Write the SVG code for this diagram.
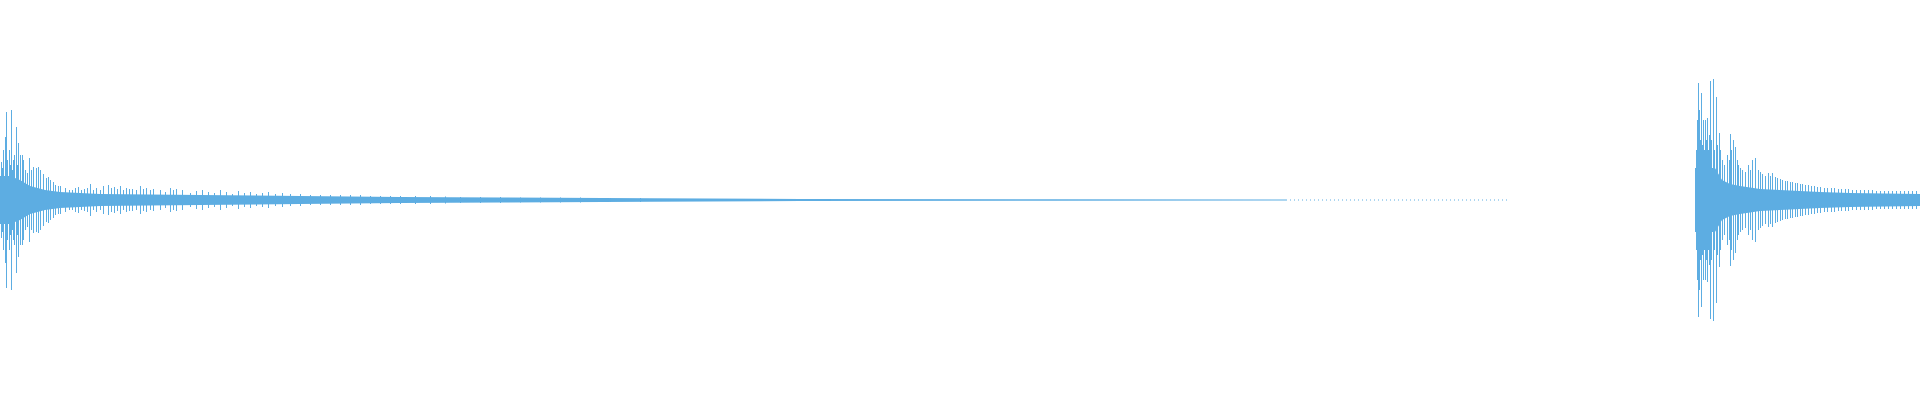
<svg xmlns="http://www.w3.org/2000/svg" width="1920" height="400" viewBox="0 0 1920 400">
<style>.w{fill:#5DADE2}.s{stroke:#5DADE2;stroke-width:1;fill:none}.d{stroke:#5DADE2;stroke-width:1;stroke-dasharray:1 3}</style>
<rect width="1920" height="400" fill="#fff"/>
<g id="burst1">
<polygon class="w" points="0,176 10,176 20,180 30,186 45,190 60,192 80,193 100,194 200,195 300,196 400,197 500,197.5 650,198.3 800,198.9 1050,199.3 1286,199.6 1286,200.4 1050,200.7 800,201.1 650,201.7 500,202.5 400,203 300,204 200,205 100,206 80,207 60,208 45,210 30,214 20,220 10,224 0,224"/>
<path class="s" d="M1.5,162V238M2.5,168V232M3.5,150V250M5.5,137V263M6.5,112V288M7.5,160V240M9.5,150V250M10.5,165V235M11.5,110V290M12.5,170V230M13.5,160V240M14.5,155V245M16.5,127V273M17.5,165V235M18.5,143V257M20.5,155V245M22.5,155V245M23.5,160V240M25.5,170V230M27.5,173V227M29.5,158V242M31.5,170V230M33.5,167V233M36.5,168V232M38.5,167V233M40.5,170V230M43.5,174V226M46.5,178V222M48.5,177V223M50.5,180V220M53.5,182V218M55.5,185V215M58.5,186V214M60.5,186V214M65.5,188V212M69.5,190V210M72.5,190V210M75.5,188V212M78.5,187V213M81.5,190V210M84.5,189V211M87.5,188V212M90.5,184V216M93.5,190V210M96.5,188V212M100.5,190V210M103.5,186V214M108.5,185V215M111.5,188V212M114.5,187V213M117.5,189V211M120.5,186V214M123.5,190V210M126.5,188V212M129.5,189V211M132.5,189V211M136.5,190V210M140.5,186V214M143.5,189V211M146.5,188V212M150.5,190V210M153.5,189V211M160.5,190V210M165.5,192V208M170.5,188V212M173.5,190V210M176.5,189V211M182.5,190V210M190.5,193V207M196.5,191V209M202.5,190V210M208.5,192V208M214.5,193V207M220.5,190V210M226.5,192V208M232.5,194V206M238.5,191V209M244.5,193V207M250.5,192V208M256.5,194V206M262.5,193V207M268.5,192V208M275.5,194V206M282.5,193V207M290.5,194V206M300.5,194V206M310.5,195V205M320.5,195V205M330.5,195V205M340.5,195V205M350.5,195V205M360.5,195V205M370.5,196V204M380.5,196V204M390.5,196V204M400.5,196V204M415.5,196V204M430.5,196V204M445.5,196.5V203.5M460.5,197V203M480.5,197V203M500.5,197V203M520.5,197.5V202.5M540.5,197.5V202.5M560.5,197.5V202.5M580.5,197.5V202.5M610.5,198V202M640.5,198V202"/>
<line class="d" x1="1286" y1="200" x2="1508" y2="200"/>
</g>
<g id="burst2">
<polygon class="w" points="1695,168 1715,168 1722,180 1730,184 1740,186 1760,189 1780,190 1820,192 1850,193 1920,194 1920,206 1850,207 1820,208 1780,210 1760,211 1740,214 1730,216 1722,220 1715,232 1695,232"/>
<path class="s" d="M1695.5,185V215M1696.5,150V250M1697.5,120V280M1698.5,83V317M1699.5,110V290M1700.5,140V260M1701.5,93V307M1702.5,145V255M1703.5,120V280M1704.5,150V250M1705.5,120V280M1706.5,140V260M1707.5,118V282M1708.5,150V250M1709.5,135V265M1710.5,81V319M1711.5,140V260M1713.5,79V321M1714.5,150V250M1716.5,97V303M1717.5,145V255M1719.5,133V267M1720.5,150V250M1722.5,160V240M1724.5,165V235M1727.5,155V245M1729.5,160V240M1730.5,134V266M1731.5,150V250M1733.5,140V260M1735.5,147V253M1737.5,160V240M1738.5,165V235M1740.5,168V232M1742.5,170V230M1745.5,172V228M1748.5,165V235M1750.5,170V230M1752.5,160V240M1755.5,158V242M1758.5,170V230M1760.5,172V228M1762.5,174V226M1765.5,176V224M1768.5,173V227M1770.5,176V224M1772.5,173V227M1775.5,177V223M1777.5,178V222M1780.5,179V221M1782.5,180V220M1785.5,181V219M1787.5,181V219M1790.5,182V218M1792.5,182V218M1795.5,183V217M1797.5,183V217M1800.5,184V216M1802.5,184V216M1805.5,185V215M1808.5,185V215M1811.5,186V214M1814.5,186V214M1817.5,187V213M1820.5,187V213M1824.5,188V212M1827.5,188V212M1831.5,188V212M1834.5,188V212M1838.5,189V211M1841.5,189V211M1845.5,189V211M1848.5,189V211M1852.5,190V210M1856.5,190V210M1860.5,190V210M1864.5,190V210M1868.5,190V210M1872.5,190V210M1876.5,191V209M1880.5,191V209M1884.5,191V209M1888.5,191V209M1892.5,191V209M1896.5,191V209M1900.5,191V209M1904.5,191V209M1908.5,191V209M1912.5,191V209M1916.5,191V209"/>
</g>
</svg>
